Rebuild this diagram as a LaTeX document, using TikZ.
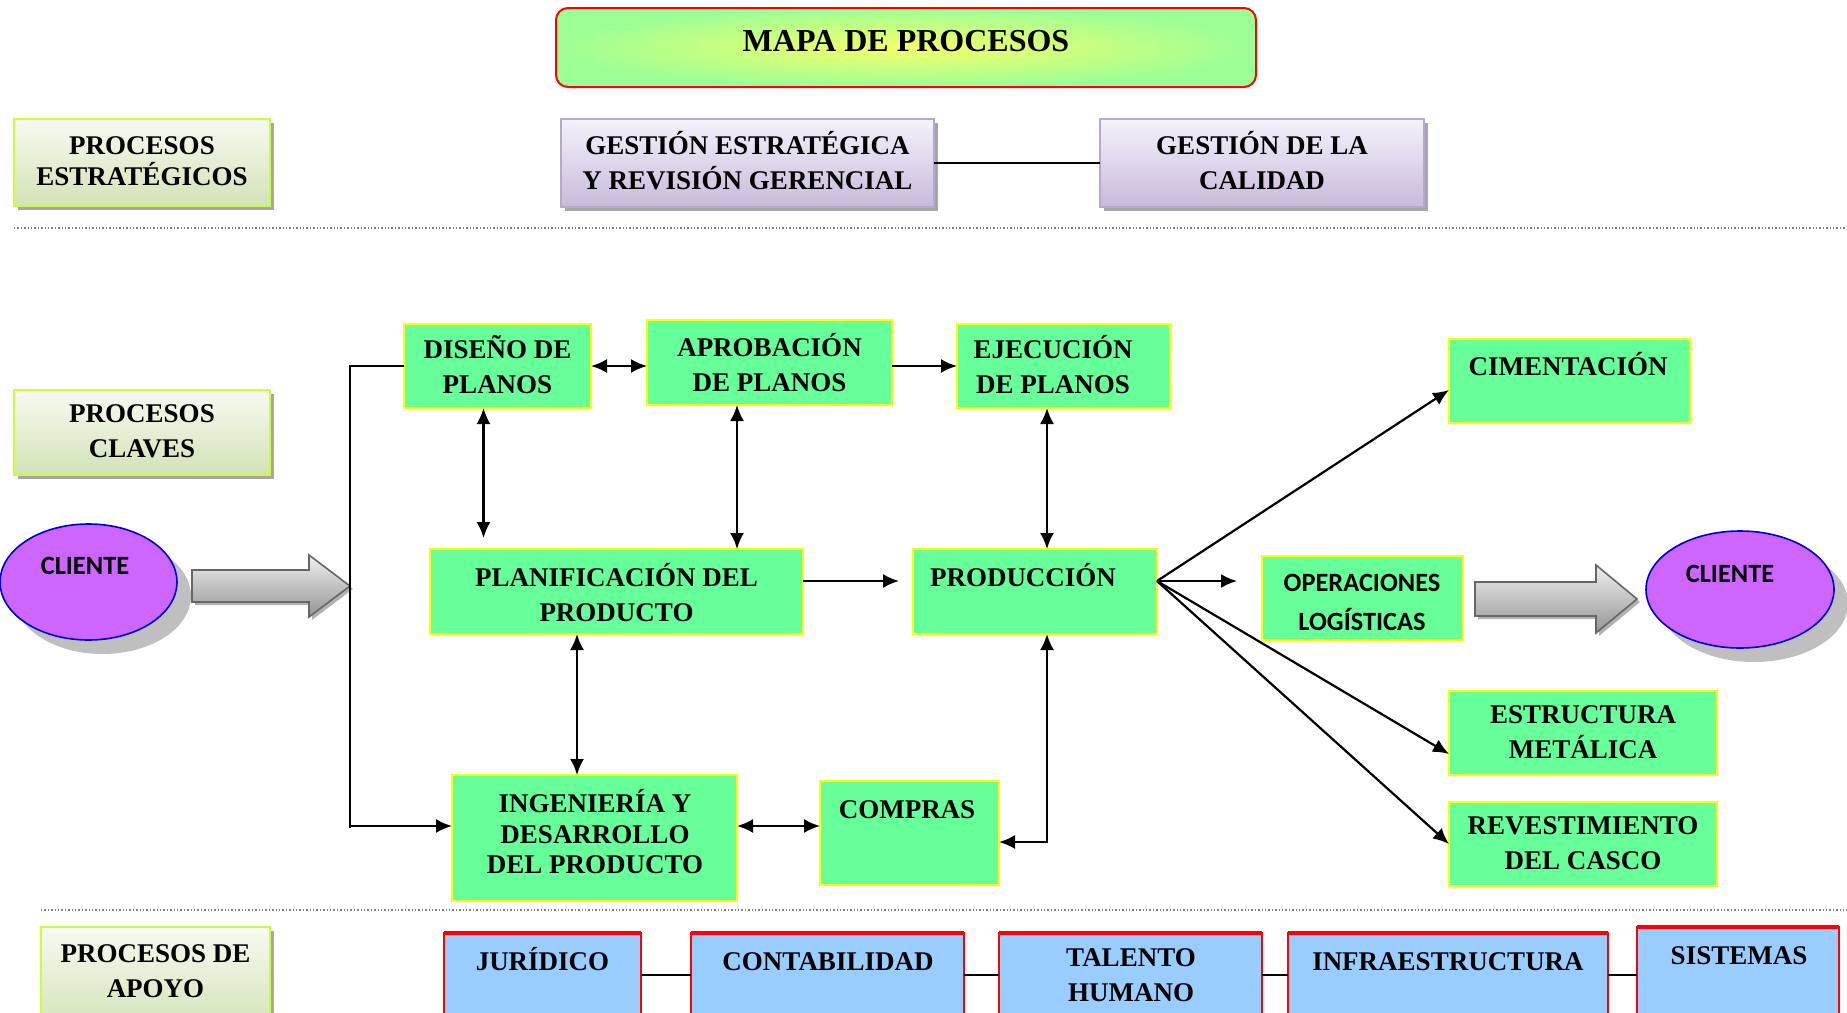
\documentclass[tikz,border=0pt]{standalone}
\usepackage{fontspec}
\setmainfont{Liberation Serif}
\newfontfamily\calibfont{Carlito}
\usetikzlibrary{arrows.meta,shapes.geometric,fit,shadows}

% colours
\definecolor{boxgreen}{HTML}{66FF99}
\definecolor{boxyellow}{HTML}{FFFF00}
\definecolor{cliviolet}{HTML}{CC66FF}
\definecolor{cliblue}{HTML}{0000CC}
\definecolor{supblue}{HTML}{99CCFF}
\definecolor{supred}{HTML}{FF0000}
\definecolor{lavtop}{HTML}{F5F2FA}
\definecolor{lavbot}{HTML}{C8BADB}
\definecolor{lavline}{HTML}{B7A8D2}
\definecolor{lbltop}{HTML}{F7FAF2}
\definecolor{lblbot}{HTML}{D2E3B6}
\definecolor{lblline}{HTML}{CCFF33}
\definecolor{ttlyellow}{HTML}{F6FF6A}
\definecolor{ttlgreen}{HTML}{9CFF96}

\tikzset{
  frame/.style={inner sep=0pt, outer sep=0pt},
  titlebox/.style={frame, rounded corners=6pt, draw=supred, line width=1pt,
    inner color=ttlyellow, outer color=ttlgreen},
  kindbox/.style={frame, draw=lblline, line width=1pt, top color=lbltop, bottom color=lblbot,
    drop shadow={shadow xshift=2pt, shadow yshift=-2pt, fill=black!35, opacity=1}},
  mgmtbox/.style={frame, draw=lavline, line width=0.8pt, top color=lavtop, bottom color=lavbot,
    drop shadow={shadow xshift=2pt, shadow yshift=-2pt, fill=black!35, opacity=1}},
  procbox/.style={frame, draw=boxyellow, line width=1pt, fill=boxgreen},
  supbox/.style={frame, draw=supred, line width=0.6pt, fill=supblue},
  client/.style={ellipse, draw=cliblue, line width=0.8pt, fill=cliviolet, inner sep=0pt,
    drop shadow={shadow xshift=7pt, shadow yshift=-7pt, fill=black!25, opacity=1}},
  txt/.style={inner sep=0pt, align=center, yshift=-1.75pt,
    font=\fontsize{13.5}{17.5}\selectfont\bfseries,
    execute at begin node=\strut, execute at end node=\strut},
  sanstxt/.style={txt, font=\calibfont\fontsize{13.2}{19.5}\selectfont\bfseries},
  link/.style={line width=1.1pt, draw=black},
  tip/.tip={Latex[length=8pt,width=7pt]},
  arr/.style={link, -tip},
  darr/.style={link, tip-tip},
  suplink/.style={line width=1.4pt, draw=black},
  sep/.style={draw=black!50, line width=0.7pt, densely dotted},
  blockarrow/.style={draw=black!60, line width=0.8pt, top color=white!94!black, bottom color=black!42,
    drop shadow={shadow xshift=1.5pt, shadow yshift=-1.5pt, fill=black!30, opacity=1}},
}

\begin{document}
\begin{tikzpicture}[x=0.5pt,y=-0.5pt]
\useasboundingbox (0,0) rectangle (1847,1012);
\clip (0,0) rectangle (1847,1012);

% ---------- title ----------
\node[titlebox, fit={(556,8) (1256,87)}] (title) {};
\node[txt, font=\fontsize{16}{20}\selectfont\bfseries] (title-t) at (906,40) {MAPA DE PROCESOS};

% ---------- process kinds ----------
\node[kindbox, fit={(14,119) (270,206)}] (kind1) {};
\node[txt, font=\fontsize{13.5}{15.3}\selectfont\bfseries] (kind1-t) at (142,162) {PROCESOS\\ESTRATÉGICOS};
\node[kindbox, fit={(14,390) (270,475)}] (kind2) {};
\node[txt] (kind2-t) at (142,433) {PROCESOS\\CLAVES};
\node[kindbox, fit={(41,927) (270,1030)}] (kind3) {};
\node[txt] (kind3-t) at (155.5,973) {PROCESOS DE\\APOYO};

% ---------- strategic processes ----------
\node[mgmtbox, fit={(561,119) (934,207)}] (gest1) {};
\node[txt] (gest1-t) at (747.5,162.5) {GESTIÓN ESTRATÉGICA\\Y REVISIÓN GERENCIAL};
\node[mgmtbox, fit={(1100,119) (1424,207)}] (gest2) {};
\node[txt] (gest2-t) at (1262,162.5) {GESTIÓN DE LA\\CALIDAD};
\draw[link] (gest1.east) -- (gest2.west);

% separators
\draw[sep] (14,228) -- (1847,228);
\draw[sep] (41,910) -- (1847,910);

% ---------- key processes ----------
\node[procbox, fit={(404,324) (591,408)}] (diseno) {};
\node[txt] (diseno-t) at (497.5,366.5) {DISEÑO DE\\PLANOS};
\node[procbox, fit={(647,320) (892,405)}] (aprob) {};
\node[txt] (aprob-t) at (769.5,364) {APROBACIÓN\\DE PLANOS};
\node[procbox, fit={(957,324) (1170,408)}] (ejec) {};
\node[txt] (ejec-t) at (1053,366) {EJECUCIÓN\\DE PLANOS};
\node[procbox, fit={(430,549) (803,634)}] (planif) {};
\node[txt] (planif-t) at (616.5,594) {PLANIFICACIÓN DEL\\PRODUCTO};
\node[procbox, fit={(913,549) (1157,634)}] (prod) {};
\node[txt] (prod-t) at (1023,576) {PRODUCCIÓN};
\node[procbox, fit={(452,775) (737,901)}] (ing) {};
\node[txt, font=\fontsize{13.5}{15.25}\selectfont\bfseries] (ing-t) at (595,832.5) {INGENIERÍA Y\\DESARROLLO\\DEL PRODUCTO};
\node[procbox, fit={(820,781) (999,885)}] (compras) {};
\node[txt] (compras-t) at (907,808) {COMPRAS};
\node[procbox, fit={(1449,339) (1690,423)}] (cim) {};
\node[txt] (cim-t) at (1568,365) {CIMENTACIÓN};
\node[procbox, fit={(1262,556) (1463,640)}] (oper) {};
\node[sanstxt] (oper-t) at (1362,605) {OPERACIONES\\LOGÍSTICAS};
\node[procbox, fit={(1449,691) (1717,775)}] (estr) {};
\node[txt] (estr-t) at (1583,734) {ESTRUCTURA\\METÁLICA};
\node[procbox, fit={(1449,802) (1717,886)}] (rev) {};
\node[txt] (rev-t) at (1583,845) {REVESTIMIENTO\\DEL CASCO};

% clients
\node[client, minimum width=88.5pt, minimum height=58pt] (cliA) at (88.5,582) {};
\node[sanstxt] (cliA-t) at (85,563) {CLIENTE};
\node[client, minimum width=94pt, minimum height=58.5pt] (cliB) at (1740,589.5) {};
\node[sanstxt] (cliB-t) at (1730,571.5) {CLIENTE};

% block arrows
\draw[blockarrow] (192,570) -- (309,570) -- (309,555) -- (350,586) -- (309,617)
  -- (309,602) -- (192,602) -- cycle;
\draw[blockarrow] (1475,582) -- (1596,582) -- (1596,565) -- (1637,599) -- (1596,633)
  -- (1596,616) -- (1475,616) -- cycle;

% entry trunk
\coordinate (trunkBot) at (350,828);
\coordinate (trunkArr) at (350,826);
\draw[link] (diseno.west) -| (trunkBot);
\draw[arr] (trunkArr) -- (trunkArr -| ing.west);

% flows between key processes
\draw[darr] (diseno.east) -- (diseno.east -| aprob.west);
\draw[arr] (ejec.west -| aprob.east) -- (ejec.west);
\draw[darr, shorten >=5.5pt] ([xshift=-7pt]diseno.south) -- ([xshift=-7pt]diseno.south |- planif.north);
\draw[darr] ([xshift=-16.25pt]aprob.south) -- ([xshift=-16.25pt]aprob.south |- planif.north);
\draw[darr] ([xshift=-8.25pt]ejec.south) -- ([xshift=-8.25pt]ejec.south |- prod.north);
\draw[arr, shorten >=7pt] ([yshift=5.25pt]planif.east) -- ([yshift=5.25pt]planif.east -| prod.west);
\draw[darr] ([xshift=-19.75pt]planif.south) -- ([xshift=-19.75pt]planif.south |- ing.north);
\draw[darr] ([yshift=6pt]ing.east) -- ([yshift=6pt]ing.east -| compras.west);
\draw[darr] ([xshift=6pt]prod.south) |- ([yshift=-4.5pt]compras.east);

% output fan
\coordinate (fan) at ([yshift=5.25pt]prod.east);
\draw[arr] (fan) -- ([yshift=-4.5pt]cim.west);
\draw[arr, shorten >=12.5pt] (fan) -- (fan -| oper.west);
\draw[arr] (fan) -- ([yshift=-10.5pt]estr.west);
\draw[arr] (fan) -- (rev.west);

% ---------- support processes ----------
\node[supbox, fit={(444,933) (641,1017)}] (jur) {};
\node[txt] (jur-t) at (542.5,960) {JURÍDICO};
\node[supbox, fit={(691,933) (964,1017)}] (cont) {};
\node[txt] (cont-t) at (828,960) {CONTABILIDAD};
\node[supbox, fit={(999,933) (1262,1017)}] (tal) {};
\node[txt] (tal-t) at (1131,977) {TALENTO\\HUMANO};
\node[supbox, fit={(1288,933) (1608,1017)}] (infra) {};
\node[txt] (infra-t) at (1448,960) {INFRAESTRUCTURA};
\node[supbox, fit={(1637,927) (1839,1017)}] (sis) {};
\node[txt] (sis-t) at (1739,954) {SISTEMAS};
\foreach \b in {jur,cont,tal,infra,sis}
  \draw[supred, line width=1.6pt] (\b.north west) -- (\b.north east);
\draw[suplink] (jur.east) -- (cont.west);
\draw[suplink] (cont.east) -- (tal.west);
\draw[suplink] (tal.east) -- (infra.west);
\draw[suplink] (infra.east) -- (infra.east -| sis.west);

\end{tikzpicture}
\end{document}
